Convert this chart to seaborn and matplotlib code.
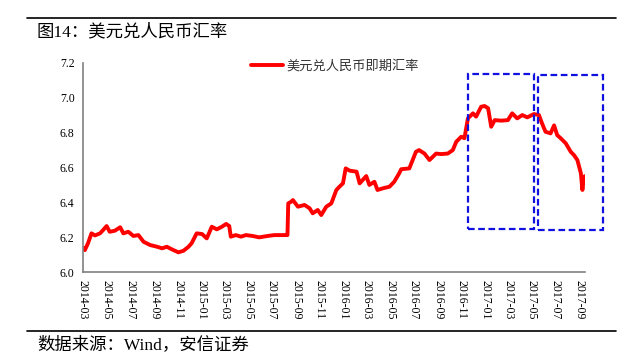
import matplotlib
matplotlib.use("Agg")
import matplotlib.pyplot as plt
import matplotlib.dates as mdates
from matplotlib.patches import Rectangle
from matplotlib.lines import Line2D
import seaborn as sns
import pandas as pd

dates = [
    "2014-03-03", "2014-03-06", "2014-03-14", "2014-03-23", "2014-04-01", "2014-04-14",
    "2014-04-22", "2014-05-01", "2014-05-09", "2014-05-22", "2014-06-05", "2014-06-13",
    "2014-06-26", "2014-07-09", "2014-07-22", "2014-08-04", "2014-08-21", "2014-09-08",
    "2014-09-21", "2014-10-03", "2014-10-20", "2014-11-02", "2014-11-15", "2014-11-28",
    "2014-12-06", "2014-12-19", "2015-01-02", "2015-01-14", "2015-01-27", "2015-02-09",
    "2015-02-22", "2015-03-05", "2015-03-13", "2015-03-17", "2015-03-30", "2015-04-12",
    "2015-04-25", "2015-05-12", "2015-05-29", "2015-06-20", "2015-07-07", "2015-08-03",
    "2015-08-10", "2015-08-12", "2015-08-20", "2015-08-24", "2015-09-06", "2015-09-23",
    "2015-10-06", "2015-10-14", "2015-10-27", "2015-11-05", "2015-11-18", "2015-12-01",
    "2015-12-14", "2015-12-22", "2015-12-31", "2016-01-07", "2016-01-17", "2016-02-04",
    "2016-02-12", "2016-02-29", "2016-03-08", "2016-03-21", "2016-03-29", "2016-04-11",
    "2016-04-29", "2016-05-11", "2016-05-24", "2016-05-29", "2016-06-19", "2016-07-06",
    "2016-07-14", "2016-07-28", "2016-08-10", "2016-08-27", "2016-09-09", "2016-09-26",
    "2016-10-09", "2016-10-18", "2016-10-31", "2016-11-08", "2016-11-17", "2016-11-30",
    "2016-12-08", "2016-12-21", "2016-12-30", "2017-01-08", "2017-01-16", "2017-01-25",
    "2017-02-11", "2017-02-28", "2017-03-11", "2017-03-24", "2017-04-06", "2017-04-19",
    "2017-05-06", "2017-05-19", "2017-05-27", "2017-06-05", "2017-06-18", "2017-06-27",
    "2017-07-05", "2017-07-14", "2017-07-27", "2017-08-09", "2017-08-17", "2017-08-26",
    "2017-09-04", "2017-09-08", "2017-09-12", "2017-09-15",
]
rates = [
    6.136, 6.126, 6.165, 6.222, 6.210, 6.222,
    6.241, 6.264, 6.231, 6.237, 6.257, 6.222,
    6.231, 6.207, 6.212, 6.174, 6.155, 6.145,
    6.136, 6.145, 6.126, 6.113, 6.122, 6.145,
    6.165, 6.222, 6.218, 6.193, 6.260, 6.245,
    6.260, 6.276, 6.264, 6.203, 6.212, 6.203,
    6.212, 6.207, 6.199, 6.207, 6.212, 6.212,
    6.212, 6.394, 6.404, 6.413, 6.375, 6.385,
    6.366, 6.337, 6.356, 6.327, 6.375, 6.394,
    6.471, 6.490, 6.509, 6.595, 6.582, 6.576,
    6.509, 6.551, 6.500, 6.518, 6.471, 6.480,
    6.490, 6.518, 6.567, 6.590, 6.595, 6.690,
    6.700, 6.680, 6.643, 6.680, 6.677, 6.680,
    6.700, 6.748, 6.777, 6.768, 6.882, 6.911,
    6.892, 6.949, 6.953, 6.940, 6.834, 6.872,
    6.869, 6.872, 6.911, 6.882, 6.901, 6.888,
    6.907, 6.901, 6.853, 6.805, 6.796, 6.842,
    6.786, 6.768, 6.739, 6.690, 6.672, 6.643,
    6.567, 6.471, 6.547, 6.551,
]
series_name = "美元兑人民币即期汇率"
title_text = "图14：美元兑人民币汇率"
source_text = "数据来源：Wind，安信证券"
y_ticks = [6.0, 6.2, 6.4, 6.6, 6.8, 7.0, 7.2]

df = pd.DataFrame({"date": pd.to_datetime(dates), "rate": rates})

sns.set_style("white")
plt.rcParams["font.family"] = ["Liberation Serif", "Noto Sans CJK SC"]

fig = plt.figure(figsize=(6.43, 3.61), dpi=100)
ax = fig.add_axes([0.129, 0.2465, 0.781, 0.579])

sns.lineplot(data=df, x="date", y="rate", ax=ax, color="#ff0000", linewidth=2.8)

ax.set_xlim(pd.Timestamp("2014-03-01"), pd.Timestamp("2017-09-15"))
ax.set_ylim(6.0, 7.2)
ax.set_yticks(y_ticks)
ax.set_yticklabels([f"{v:.1f}" for v in y_ticks])
ax.xaxis.set_major_locator(mdates.MonthLocator(bymonth=[1, 3, 5, 7, 9, 11]))
ax.xaxis.set_major_formatter(mdates.DateFormatter("%Y-%m"))
ax.set_xlabel("")
ax.set_ylabel("")
for lab in ax.get_xticklabels():
    lab.set_rotation(-90)
    lab.set_va("top")
    lab.set_ha("center")
ax.tick_params(axis="both", which="major", direction="out", length=4, width=1,
               color="#808080", labelsize=8.5, labelcolor="black", pad=2)
for s in ["top", "right"]:
    ax.spines[s].set_visible(False)
for s in ["left", "bottom"]:
    ax.spines[s].set_color("#808080")
    ax.spines[s].set_linewidth(1.2)

# legend
handle = Line2D([], [], color="#ff0000", linewidth=2.8)
leg = ax.legend([handle], [series_name], loc="upper left", bbox_to_anchor=(0.325, 1.04),
                frameon=False, handlelength=2.4, handletextpad=0.25, borderaxespad=0,
                prop={"family": ["Noto Sans CJK SC"], "size": 9.5})
for t in leg.get_texts():
    t.set_color("#333333")

# dashed boxes
for (x0, y0, w, h) in [(0.7283, 0.3657, 0.1027, 0.4298), (0.8362, 0.3629, 0.1021, 0.4301)]:
    fig.add_artist(Rectangle((x0, y0), w, h, transform=fig.transFigure, fill=False,
                             edgecolor="#1010e0", linewidth=1.6, linestyle=(0, (3, 1.6))))

# header / footer lines and texts
fig.add_artist(Line2D([0.042, 0.958], [1 - 18 / 361, 1 - 18 / 361], transform=fig.transFigure,
                      color="black", linewidth=1.2))
fig.add_artist(Line2D([0.042, 0.958], [1 - 331 / 361, 1 - 331 / 361], transform=fig.transFigure,
                      color="black", linewidth=1.2))
fig.text(37 / 643, 1 - 32 / 361, title_text, fontsize=12.5, va="center", ha="left",
         family=["Liberation Serif", "Noto Sans CJK SC"], color="black")
fig.text(37 / 643, 1 - 345 / 361, source_text, fontsize=12.5, va="center", ha="left",
         family=["Liberation Serif", "Noto Sans CJK SC"], color="black")

fig.savefig("out.png", dpi=100)
